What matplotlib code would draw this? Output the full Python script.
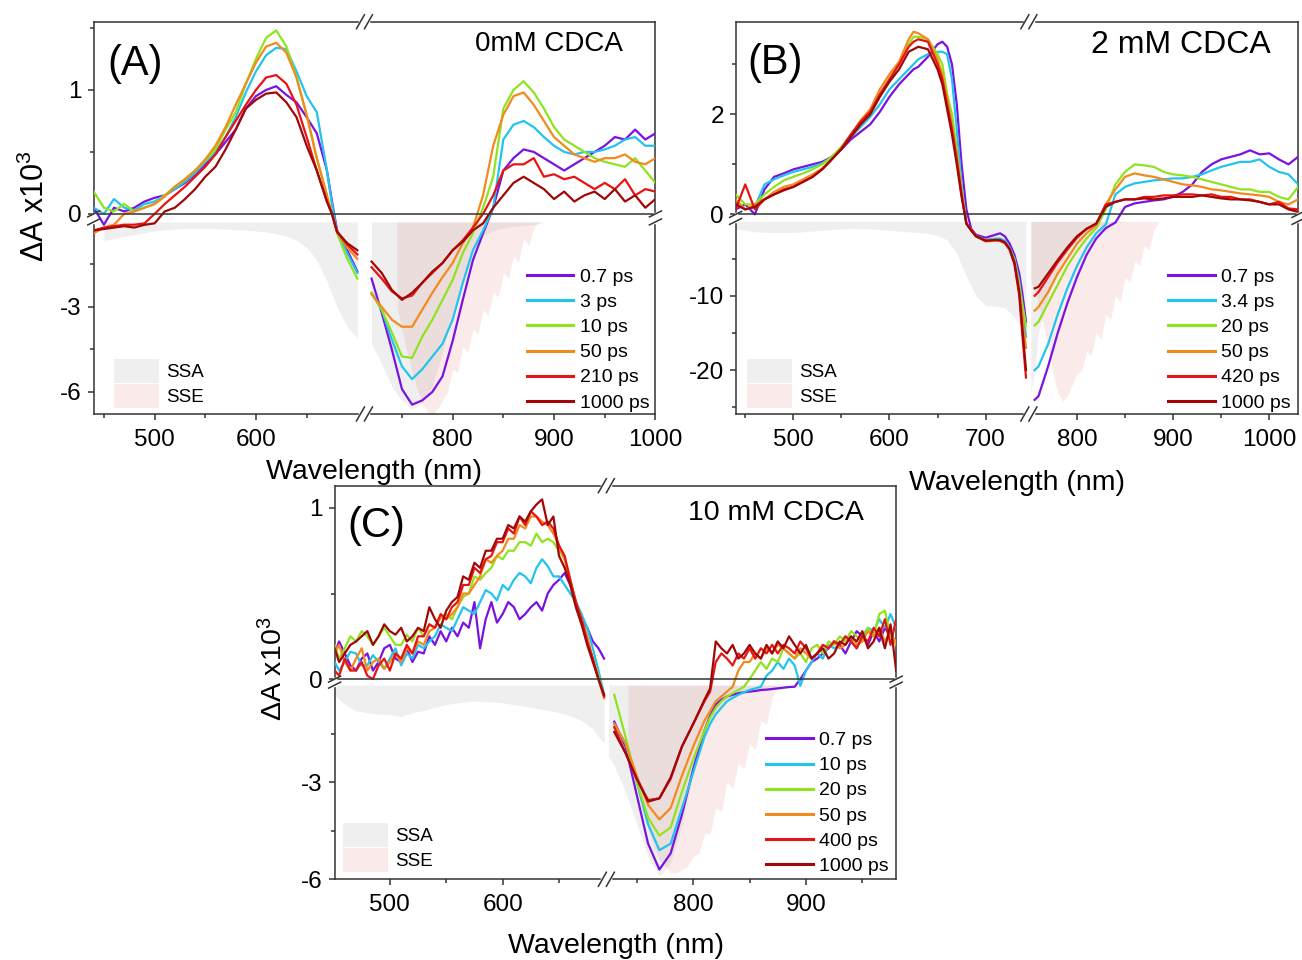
import numpy as np
import matplotlib.pyplot as plt
from matplotlib.lines import Line2D
from matplotlib.patches import Patch

plt.rcParams['font.family'] = ['Liberation Sans', 'DejaVu Sans']
plt.rcParams['mathtext.fontset'] = 'custom'
plt.rcParams['mathtext.rm'] = 'Liberation Sans'
plt.rcParams['mathtext.default'] = 'regular'
plt.rcParams['axes.unicode_minus'] = False

colors = ['#7a12e0', '#22c4ee', '#8fe31f', '#f28a1c', '#e81414', '#a00808']
ssa_col = (0.69, 0.69, 0.69, 0.2)
sse_col = (0.88, 0.44, 0.44, 0.14)
dark = '#333333'

# ---------------- panel A : 0 mM CDCA ----------------
wl_a = [440, 450, 460, 470, 480, 490, 500, 510, 520, 530, 540, 550, 560, 570, 580, 590,
        600, 610, 620, 630, 640, 650, 660, 670, 675, 680, 690, 700,
        720, 730, 740, 750, 760, 770, 780, 790, 800, 810, 820, 830, 840, 850, 860, 870,
        880, 890, 900, 910, 920, 930, 940, 950, 960, 970, 980, 990, 1000]
a_07 = [0.05, -0.1, 0.05, 0.02, 0.05, 0.1, 0.13, 0.15, 0.2, 0.25, 0.32, 0.4, 0.48, 0.58, 0.68, 0.85,
        0.95, 1.0, 1.03, 0.96, 0.9, 0.78, 0.65, 0.35, 0.1, -0.3, -1.0, -1.75,
        -2.0, -3.2, -4.5, -5.9, -6.45, -6.3, -6.0, -5.45, -4.2, -2.75, -1.35, -0.4, 0.05, 0.35, 0.45, 0.52,
        0.5, 0.45, 0.4, 0.35, 0.4, 0.45, 0.5, 0.55, 0.62, 0.6, 0.68, 0.6, 0.65]
a_3 = [0.05, 0.0, 0.12, 0.05, 0.03, 0.08, 0.1, 0.15, 0.2, 0.26, 0.33, 0.42, 0.5, 0.62, 0.78, 0.98,
       1.15, 1.28, 1.34, 1.33, 1.15, 0.95, 0.82, 0.35, 0.08, -0.35, -1.1, -1.8,
       -2.5, -3.1, -4.15, -5.1, -5.55, -5.2, -4.75, -4.3, -3.45, -2.15, -1.0, -0.3, 0.05, 0.6, 0.72, 0.75,
       0.7, 0.62, 0.55, 0.5, 0.48, 0.5, 0.5, 0.52, 0.55, 0.6, 0.62, 0.55, 0.55]
a_10 = [0.18, 0.05, 0.02, 0.08, 0.02, 0.05, 0.08, 0.15, 0.22, 0.28, 0.35, 0.43, 0.52, 0.68, 0.82, 1.05,
        1.25, 1.42, 1.48, 1.35, 1.1, 0.8, 0.45, 0.15, 0.0, -0.4, -1.3, -2.0,
        -2.5, -3.1, -3.9, -4.75, -4.8, -4.05, -3.45, -2.75, -2.05, -1.1, -0.4, 0.05, 0.3, 0.85, 1.0, 1.07,
        0.98, 0.85, 0.7, 0.6, 0.55, 0.5, 0.45, 0.42, 0.4, 0.38, 0.45, 0.35, 0.25]
a_50 = [-0.4, -0.2, -0.1, 0.0, 0.02, 0.05, 0.08, 0.14, 0.22, 0.28, 0.35, 0.44, 0.55, 0.7, 0.88, 1.05,
        1.22, 1.35, 1.38, 1.3, 1.1, 0.8, 0.45, 0.15, 0.0, -0.35, -0.9, -1.3,
        -2.55, -3.0, -3.45, -3.7, -3.7, -3.1, -2.5, -1.95, -1.45, -0.75, -0.2, 0.15, 0.55, 0.8, 0.95, 0.98,
        0.88, 0.75, 0.62, 0.55, 0.48, 0.45, 0.42, 0.45, 0.45, 0.48, 0.42, 0.4, 0.45]
a_210 = [-0.3, -0.2, -0.15, -0.1, -0.1, -0.05, 0.0, 0.08, 0.15, 0.22, 0.3, 0.38, 0.48, 0.62, 0.75, 0.88,
         1.0, 1.1, 1.12, 1.05, 0.88, 0.62, 0.35, 0.1, 0.0, -0.35, -0.8, -1.15,
         -1.6, -2.0, -2.45, -2.7, -2.6, -2.15, -1.8, -1.45, -1.0, -0.65, -0.2, 0.0, 0.15, 0.35, 0.4, 0.4,
         0.45, 0.3, 0.32, 0.28, 0.3, 0.25, 0.2, 0.25, 0.2, 0.28, 0.15, 0.2, 0.18]
a_1000 = [-0.3, -0.25, -0.2, -0.15, -0.2, -0.1, -0.05, 0.02, 0.05, 0.12, 0.2, 0.3, 0.38, 0.52, 0.68, 0.85,
          0.92, 0.97, 0.98, 0.9, 0.78, 0.55, 0.35, 0.1, 0.0, -0.35, -0.75, -1.0,
          -1.4, -1.8, -2.4, -2.75, -2.5, -2.15, -1.75, -1.45, -1.0, -0.7, -0.3, -0.05, 0.05, 0.15, 0.25, 0.3,
          0.25, 0.2, 0.12, 0.18, 0.1, 0.15, 0.18, 0.12, 0.2, 0.1, 0.15, 0.05, 0.12]
labels_a = ['0.7 ps', '3 ps', '10 ps', '50 ps', '210 ps', '1000 ps']
ssa_wl_a = [450, 460, 470, 480, 490, 500, 520, 540, 560, 580, 600, 610, 620, 630, 640, 650, 660, 670,
            680, 690, 700, 720, 730, 740, 750, 760, 770, 780, 790, 800, 810, 820, 830, 840, 860, 880, 890]
ssa_a = [-0.65, -0.6, -0.5, -0.45, -0.38, -0.32, -0.25, -0.22, -0.24, -0.27, -0.32, -0.35, -0.42, -0.5,
         -0.65, -0.9, -1.35, -2.1, -3.0, -3.7, -4.1, -4.3, -5.0, -5.8, -6.3, -6.6, -6.4, -5.8, -4.6, -3.2,
         -1.9, -1.0, -0.5, -0.3, -0.15, -0.1, -0.02]
sse_wl_a = [745, 750, 755, 760, 765, 770, 775, 780, 785, 790, 795, 800, 805, 810, 815, 820, 825, 830,
            835, 840, 845, 850, 855, 860, 865, 870, 875, 880, 885]
sse_a = [-3.0, -3.8, -4.6, -5.3, -5.9, -6.4, -6.7, -6.8, -6.6, -6.3, -6.0, -5.2, -5.3, -4.4, -4.6, -3.8,
         -3.95, -3.1, -3.3, -2.5, -2.65, -1.8, -2.0, -1.2, -1.4, -0.6, -0.85, -0.2, -0.01]

# ---------------- panel B : 2 mM CDCA ----------------
wl_b = [440, 450, 460, 470, 480, 490, 500, 510, 520, 530, 540, 550, 560, 570, 580, 590, 600, 610, 620,
        625, 630, 640, 650, 655, 660, 665, 670, 675, 680, 685, 690, 700, 710, 715, 720, 725, 730, 735, 738, 742,
        756, 760, 770, 780, 790, 800, 810, 820, 830, 840,
        850, 860, 870, 880, 890, 900, 910, 920, 930, 940, 950, 960, 970, 980, 990, 1000, 1010, 1020, 1030]
b_07 = [0.1, 0.2, 0.0, 0.5, 0.75, 0.82, 0.9, 0.95, 1.0, 1.05, 1.15, 1.3, 1.5, 1.65, 1.8, 2.05, 2.35, 2.6, 2.8,
        2.9, 2.95, 3.15, 3.4, 3.45, 3.35, 3.0, 2.2, 1.0, 0.1, -1.0, -1.8, -2.2, -1.8, -1.6, -2.0, -3.0, -4.5, -7.0, -9.5, -13.5,
        -24.0, -23.5, -19.5, -15.0, -11.0, -7.5, -4.5, -2.3, -0.9, -0.15,
        0.15, 0.22, 0.25, 0.28, 0.3, 0.35, 0.45, 0.6, 0.85, 1.0, 1.1, 1.15, 1.2, 1.28, 1.2, 1.22, 1.1, 1.0, 1.15]
b_34 = [0.2, 0.1, 0.15, 0.6, 0.7, 0.78, 0.85, 0.9, 0.95, 1.02, 1.15, 1.32, 1.55, 1.75, 1.95, 2.2, 2.5, 2.7, 2.9,
        3.0, 3.1, 3.2, 3.25, 3.25, 3.2, 2.7, 1.7, 0.6, -0.3, -1.2, -2.0, -2.5, -2.3, -2.3, -2.6, -3.5, -5.0, -8.0, -11.0, -15.5,
        -20.0, -19.5, -16.5, -12.5, -9.0, -6.0, -3.5, -1.6, -0.4, 0.4,
        0.55, 0.62, 0.65, 0.68, 0.7, 0.72, 0.72, 0.75, 0.8, 0.88, 0.95, 1.0, 1.05, 1.05, 1.1, 0.95, 0.85, 0.8, 0.6]
b_20 = [0.4, 0.2, 0.2, 0.4, 0.55, 0.68, 0.75, 0.82, 0.9, 1.0, 1.15, 1.35, 1.6, 1.85, 2.05, 2.4, 2.7, 3.0, 3.4,
        3.55, 3.55, 3.5, 3.2, 3.0, 2.4, 2.0, 1.3, 0.5, -0.3, -1.2, -2.0, -2.6, -2.5, -2.6, -2.9, -3.7, -5.2, -8.5, -11.0, -14.0,
        -14.0, -13.5, -11.0, -8.5, -6.0, -4.0, -2.3, -0.9, 0.1, 0.6,
        0.85, 1.0, 0.98, 0.95, 0.85, 0.8, 0.78, 0.75, 0.7, 0.65, 0.6, 0.55, 0.5, 0.5, 0.45, 0.45, 0.35, 0.3, 0.55]
b_50 = [0.3, 0.1, 0.2, 0.3, 0.45, 0.55, 0.6, 0.7, 0.8, 0.92, 1.1, 1.32, 1.6, 1.88, 2.1, 2.5, 2.8, 3.05, 3.5,
        3.65, 3.62, 3.5, 3.1, 2.8, 2.3, 1.8, 1.2, 0.45, -0.3, -1.2, -2.0, -2.7, -2.6, -2.6, -2.9, -3.8, -5.5, -9.0, -12.5, -17.0,
        -12.0, -11.5, -9.5, -7.0, -5.0, -3.0, -1.6, -0.5, 0.2, 0.5,
        0.75, 0.82, 0.78, 0.75, 0.7, 0.65, 0.6, 0.58, 0.55, 0.5, 0.48, 0.45, 0.42, 0.4, 0.38, 0.35, 0.25, 0.2, 0.3]
b_420 = [0.1, 0.6, 0.1, 0.3, 0.4, 0.5, 0.55, 0.65, 0.75, 0.9, 1.1, 1.32, 1.6, 1.85, 2.05, 2.4, 2.7, 3.0, 3.35,
         3.45, 3.5, 3.45, 3.0, 2.7, 2.2, 1.7, 1.1, 0.4, -0.3, -1.2, -2.0, -2.6, -2.5, -2.6, -2.9, -3.8, -5.8, -10.0, -15.0, -21.0,
         -10.0, -9.5, -7.5, -5.5, -3.8, -2.2, -1.0, -0.3, 0.2, 0.25,
         0.3, 0.3, 0.35, 0.35, 0.38, 0.38, 0.4, 0.4, 0.38, 0.4, 0.35, 0.35, 0.3, 0.3, 0.25, 0.2, 0.25, 0.12, 0.1]
b_1000 = [0.2, 0.1, 0.15, 0.3, 0.4, 0.48, 0.55, 0.65, 0.75, 0.9, 1.1, 1.3, 1.55, 1.8, 2.0, 2.35, 2.65, 2.9, 3.25,
          3.3, 3.35, 3.3, 2.9, 2.6, 2.1, 1.6, 1.0, 0.35, -0.3, -1.2, -2.0, -2.6, -2.5, -2.5, -2.8, -3.7, -5.5, -9.5, -14.0, -20.0,
          -9.0, -8.8, -7.0, -5.2, -3.5, -2.0, -1.0, -0.3, 0.15, 0.25,
          0.3, 0.3, 0.32, 0.3, 0.32, 0.35, 0.35, 0.35, 0.38, 0.35, 0.32, 0.3, 0.3, 0.28, 0.25, 0.2, 0.2, 0.1, 0.05]
labels_b = ['0.7 ps', '3.4 ps', '20 ps', '50 ps', '420 ps', '1000 ps']
ssa_wl_b = [440, 450, 460, 480, 500, 520, 540, 560, 580, 600, 620, 640, 650, 660, 670, 680, 690, 700, 710,
            720, 730, 738, 742, 752, 756, 760, 770, 780, 790, 800, 810, 820, 830, 840, 850]
ssa_b = [-1.0, -1.2, -1.4, -1.5, -1.5, -1.3, -1.1, -0.95, -1.0, -1.2, -1.4, -1.6, -1.9, -2.5, -4.3, -7.4,
         -10.0, -11.3, -11.4, -11.6, -12.8, -14.5, -17.5, -23.0, -20.0, -15.0, -10.0, -6.5, -4.0, -2.5, -1.5,
         -0.8, -0.4, -0.2, -0.05]
sse_wl_b = [752, 755, 760, 765, 770, 775, 780, 785, 790, 795, 800, 805, 810, 815, 820, 825, 830, 835, 840,
            845, 850, 855, 860, 865, 870, 875, 880, 885]
sse_b = [-8.0, -9.0, -11.0, -14.0, -17.0, -20.5, -23.0, -24.2, -23.5, -22.0, -20.5, -20.0, -17.5, -18.0,
         -15.0, -15.8, -12.5, -13.2, -10.0, -10.8, -7.5, -8.2, -5.3, -6.0, -3.3, -3.8, -1.2, -0.01]

# ---------------- panel C : 10 mM CDCA ----------------
wl_c = [451, 455, 460, 465, 470, 475, 480, 485, 490, 495, 500, 505, 510, 515, 520, 525, 530, 535, 540, 545,
        550, 555, 560, 565, 570, 575, 580, 585, 590, 595, 600, 605, 610, 615, 620, 625, 630, 635, 640, 645,
        650, 655, 660, 665, 670, 675, 680, 685, 690,
        730, 740, 750, 760, 770, 780, 790, 800, 810,
        815, 820, 825, 830, 835, 840, 845, 850, 855, 860, 865, 870, 875, 880, 885, 890, 895, 900, 905, 910,
        915, 920, 925, 930, 935, 940, 945, 950, 955, 960, 965, 970, 975, 980]
c_07 = [0.15, 0.22, 0.15, 0.08, 0.05, 0.12, 0.15, 0.05, 0.1, 0.18, 0.2, 0.12, 0.1, 0.18, 0.1, 0.16, 0.15, 0.25,
        0.2, 0.28, 0.22, 0.3, 0.25, 0.33, 0.3, 0.45, 0.18, 0.35, 0.45, 0.33, 0.38, 0.45, 0.42, 0.35, 0.38, 0.42,
        0.45, 0.4, 0.5, 0.55, 0.58, 0.62, 0.55, 0.45, 0.35, 0.3, 0.22, 0.18, 0.12,
        -1.13, -1.9, -3.4, -4.9, -5.7, -5.2, -4.0, -2.6, -1.4,
        -0.95, -0.6, -0.45, -0.35, -0.3, -0.25, -0.22, -0.2, -0.18, -0.15, -0.14, -0.12, -0.1, -0.08, -0.06,
        -0.05, 0.0, 0.05, 0.1, 0.12, 0.15, 0.18, 0.22, 0.2, 0.15, 0.22, 0.28, 0.25, 0.2, 0.28, 0.22, 0.3, 0.25, 0.22]
c_10 = [0.1, 0.05, 0.1, 0.16, 0.15, 0.08, 0.08, 0.14, 0.1, 0.06, 0.12, 0.18, 0.08, 0.15, 0.12, 0.2, 0.18, 0.22,
        0.25, 0.32, 0.3, 0.28, 0.35, 0.42, 0.4, 0.38, 0.45, 0.52, 0.5, 0.46, 0.55, 0.52, 0.58, 0.62, 0.6, 0.56,
        0.65, 0.7, 0.66, 0.6, 0.6, 0.55, 0.5, 0.45, 0.38, 0.3, 0.18, 0.05, -0.3,
        -1.2, -1.8, -3.0, -4.3, -5.1, -4.9, -3.8, -2.7, -1.6,
        -1.2, -0.9, -0.7, -0.5, -0.4, -0.3, -0.22, -0.15, -0.1, -0.05, 0.02, 0.05, 0.1, 0.06, 0.12, 0.08, -0.02,
        0.05, 0.1, 0.15, 0.12, 0.2, 0.18, 0.2, 0.25, 0.22, 0.18, 0.25, 0.3, 0.28, 0.35, 0.3, 0.38, 0.3]
c_20 = [0.2, 0.12, 0.18, 0.25, 0.22, 0.28, 0.25, 0.2, 0.25, 0.3, 0.25, 0.2, 0.2, 0.26, 0.22, 0.3, 0.25, 0.32,
        0.3, 0.36, 0.38, 0.35, 0.42, 0.48, 0.5, 0.6, 0.58, 0.62, 0.65, 0.72, 0.7, 0.75, 0.75, 0.8, 0.8, 0.78,
        0.85, 0.8, 0.82, 0.8, 0.75, 0.7, 0.55, 0.42, 0.32, 0.22, 0.12, 0.02, -0.35,
        -0.3, -1.6, -3.0, -4.1, -4.65, -4.4, -3.3, -2.3, -1.4,
        -1.0, -0.7, -0.5, -0.35, -0.25, -0.15, -0.05, 0.0, 0.05, 0.1, 0.06, 0.12, 0.1, 0.18, 0.15, 0.12, 0.15,
        0.1, 0.18, 0.2, 0.15, 0.22, 0.2, 0.25, 0.22, 0.28, 0.25, 0.22, 0.3, 0.25, 0.38, 0.4, 0.25, 0.22]
c_50 = [0.15, 0.2, 0.1, 0.05, 0.12, 0.18, 0.05, 0.1, 0.12, 0.06, 0.1, 0.15, 0.1, 0.18, 0.15, 0.22, 0.2, 0.28,
        0.3, 0.36, 0.35, 0.38, 0.42, 0.5, 0.5, 0.55, 0.6, 0.7, 0.68, 0.72, 0.75, 0.82, 0.82, 0.9, 0.88, 0.95,
        0.95, 0.92, 0.9, 0.85, 0.78, 0.7, 0.58, 0.45, 0.35, 0.25, 0.12, 0.0, -0.4,
        -1.2, -1.8, -2.8, -3.7, -4.15, -3.8, -2.8, -1.9, -1.1,
        -0.8, -0.5, -0.35, -0.2, -0.05, 0.05, 0.1, 0.1, 0.15, 0.12, 0.18, 0.15, 0.2, 0.18, 0.15, 0.12, 0.18,
        0.15, 0.12, 0.15, 0.2, 0.18, 0.22, 0.18, 0.2, 0.25, 0.2, 0.22, 0.28, 0.25, 0.3, 0.22, 0.28, 0.2]
c_400 = [0.05, 0.02, 0.12, 0.05, 0.05, 0.1, 0.02, 0.0, 0.08, 0.12, 0.05, 0.15, 0.12, 0.2, 0.15, 0.25, 0.25,
         0.32, 0.3, 0.38, 0.35, 0.42, 0.45, 0.55, 0.55, 0.65, 0.62, 0.7, 0.72, 0.8, 0.8, 0.88, 0.85, 0.95, 0.9,
         0.98, 0.95, 0.9, 0.92, 0.88, 0.78, 0.72, 0.58, 0.45, 0.35, 0.22, 0.12, 0.0, -0.35,
         -1.3, -2.1, -2.9, -3.55, -3.5, -2.9, -1.9, -1.2, -0.5,
         -0.2, 0.1, 0.15, 0.12, 0.08, 0.15, 0.12, 0.18, 0.12, 0.18, 0.15, 0.2, 0.15, 0.2, 0.18, 0.15, 0.22,
         0.18, 0.12, 0.15, 0.2, 0.18, 0.22, 0.2, 0.25, 0.22, 0.18, 0.25, 0.22, 0.3, 0.25, 0.35, 0.2, 0.35]
c_1000 = [0.18, 0.1, 0.15, 0.2, 0.22, 0.25, 0.28, 0.2, 0.25, 0.32, 0.28, 0.26, 0.3, 0.22, 0.25, 0.3, 0.28,
          0.42, 0.35, 0.3, 0.4, 0.45, 0.48, 0.6, 0.58, 0.68, 0.65, 0.75, 0.75, 0.82, 0.82, 0.9, 0.88, 0.95, 0.92,
          0.98, 1.02, 1.05, 0.9, 0.95, 0.72, 0.65, 0.55, 0.42, 0.32, 0.2, 0.1, 0.0, -0.3,
          -1.45, -2.1, -2.9, -3.6, -3.5, -2.85, -1.9, -1.2, -0.45,
          -0.1, 0.22, 0.18, 0.15, 0.2, 0.12, 0.15, 0.2, 0.15, 0.12, 0.2, 0.15, 0.22, 0.18, 0.25, 0.2, 0.15,
          0.2, 0.12, 0.15, 0.18, 0.12, 0.15, 0.22, 0.2, 0.25, 0.22, 0.28, 0.18, 0.22, 0.3, 0.18, 0.32, 0.05]
labels_c = ['0.7 ps', '10 ps', '20 ps', '50 ps', '400 ps', '1000 ps']
ssa_wl_c = [451, 460, 470, 480, 490, 500, 510, 520, 530, 540, 550, 560, 570, 580, 590, 600, 610, 620, 630,
            640, 650, 660, 670, 680, 685, 690,
            725, 730, 740, 750, 760, 770, 780, 790, 800, 810, 820, 830, 840, 850, 860, 870, 880, 890, 900]
ssa_c = [-0.3, -0.6, -0.8, -0.85, -0.9, -0.92, -0.97, -0.85, -0.78, -0.68, -0.6, -0.55, -0.5, -0.5, -0.52,
         -0.55, -0.6, -0.65, -0.72, -0.78, -0.85, -0.95, -1.1, -1.35, -1.6, -1.8,
         -2.2, -2.5, -3.3, -4.3, -5.3, -5.9, -5.5, -4.3, -2.8, -1.5, -0.8, -0.45, -0.3, -0.22, -0.18, -0.15,
         -0.1, -0.05, -0.02]
sse_wl_c = [742, 745, 750, 755, 760, 765, 770, 775, 780, 785, 790, 795, 800, 805, 810, 815, 820, 825, 830,
            835, 840, 845, 850, 855, 860, 865, 870, 875]
sse_c = [-2.0, -2.5, -3.2, -3.9, -4.5, -5.0, -5.4, -5.6, -5.8, -5.8, -5.7, -5.6, -5.3, -5.2, -4.6, -4.6,
         -3.8, -3.9, -3.0, -3.2, -2.4, -2.6, -1.8, -2.0, -1.1, -1.2, -0.4, -0.01]


def xfuncs(b1, b2, gx):
    def fwd(x):
        x = np.asarray(x, dtype=float)
        mid = b1 + (x - b1) * gx / (b2 - b1)
        return np.where(x <= b1, x, np.where(x >= b2, x - (b2 - b1) + gx, mid))

    def inv(t):
        t = np.asarray(t, dtype=float)
        mid = b1 + (t - b1) * (b2 - b1) / gx
        return np.where(t <= b1, t, np.where(t >= b1 + gx, t + (b2 - b1) - gx, mid))
    return fwd, inv


def yfuncs(r, g):
    def fwd(y):
        y = np.asarray(y, dtype=float)
        return np.where(y >= 0, y, y * r - g)

    def inv(t):
        t = np.asarray(t, dtype=float)
        return np.where(t >= 0, t, np.where(t <= -g, (t + g) / r, 0.0))
    return fwd, inv


fig = plt.figure(figsize=(13.02, 9.6), dpi=100)
W, H = 1302, 960


def panel(rect, wl, series, labels, ssa_wl, ssa, sse_wl, sse, xlim, xbrk, ylim, ybrk,
          xt, xm, yt, ym, tag, tagpos, title, tsize, tpos, legx, legy, sx, sy):
    ax = fig.add_axes(rect)
    b1, b2, gx = xbrk
    r, g = ybrk
    fx, ix = xfuncs(b1, b2, gx)
    fy, iy = yfuncs(r, g)
    ax.set_xscale('function', functions=(fx, ix))
    ax.set_yscale('function', functions=(fy, iy))
    ax.set_xlim(*xlim)
    ax.set_ylim(*ylim)

    wl = np.array(wl, dtype=float)
    sw, sv = np.array(ssa_wl, dtype=float), np.array(ssa)
    ew, ev = np.array(sse_wl, dtype=float), np.array(sse)
    for m in (sw <= b1, sw >= b2):
        ax.fill_between(sw[m], sv[m], -1e-9, color=ssa_col, lw=0, zorder=1)
    ax.fill_between(ew, ev, -1e-9, color=sse_col, lw=0, zorder=1.1)

    for ys, c in zip(series, colors):
        ys = np.array(ys)
        for m in (wl <= b1, wl >= b2):
            ax.plot(wl[m], ys[m], color=c, lw=1.6, zorder=3)
    ax.axhline(0, color=dark, lw=1.1, zorder=3.5)

    for s in ax.spines.values():
        s.set_color(dark)
        s.set_linewidth(1.1)
    ax.set_xticks(xt)
    ax.set_xticklabels([str(v) for v in xt])
    ax.set_xticks(xm, minor=True)
    ax.set_yticks(yt)
    ax.set_yticklabels([str(v) for v in yt])
    ax.set_yticks(ym, minor=True)
    ax.tick_params(which='both', direction='out', top=False, right=False,
                   color=dark, width=1.1, labelsize=17.5)
    ax.tick_params(which='major', length=4.5)
    ax.tick_params(which='minor', length=3, labelbottom=False, labelleft=False)
    ax.tick_params(axis='x', pad=6)
    ax.tick_params(axis='y', pad=4)

    # break marks
    bb = ax.get_position()
    w, h = bb.width * W, bb.height * H
    x0, x1 = xlim
    xf = (b1 + gx / 2 - x0) / (float(fx(x1)) - x0)
    y0f = float(fy(ylim[0]))
    yt_f = (0 - y0f) / (ylim[1] - y0f)
    yb_f = (-g - y0f) / (ylim[1] - y0f)
    kw = dict(transform=ax.transAxes, clip_on=False)
    for yy in (0, 1):
        ax.plot([xf - 4 / w, xf + 4 / w], [yy, yy], color='white', lw=2.5, zorder=5, **kw)
        for dx in (-4, 4):
            ax.plot([xf + (dx - 4) / w, xf + (dx + 4) / w], [yy - 7 / h, yy + 7 / h],
                    color=dark, lw=1.1, zorder=6, **kw)
    for xx in (0, 1):
        ax.plot([xx, xx], [yb_f, yt_f], color='white', lw=2.5, zorder=5, **kw)
        for yy in (yt_f, yb_f):
            ax.plot([xx - 6 / w, xx + 6 / w], [yy - 3 / h, yy + 3 / h],
                    color=dark, lw=1.1, zorder=6, **kw)

    ax.text(tagpos[0], tagpos[1], tag, transform=ax.transAxes, fontsize=30,
            ha='left', va='center')
    ax.text(tpos[0], tpos[1], title, transform=ax.transAxes, fontsize=tsize,
            ha='right', va='center')

    hl = [Line2D([], [], color=c, lw=2.2) for c in colors]
    leg = ax.legend(hl, labels, loc='upper left', bbox_to_anchor=(legx, legy), frameon=False,
                    fontsize=14, handlelength=2.4, handletextpad=0.33, labelspacing=0.385,
                    borderpad=0, borderaxespad=0)
    ax.add_artist(leg)
    hp = [Patch(facecolor=ssa_col, lw=0), Patch(facecolor=sse_col, lw=0)]
    ax.legend(hp, ['SSA', 'SSE'], loc='upper left', bbox_to_anchor=(sx, sy), frameon=False,
              fontsize=13.5, handlelength=2.4, handleheight=1.6, handletextpad=0.38,
              labelspacing=0.05, borderpad=0, borderaxespad=0)
    return ax


panel([0.0720, 0.56875, 0.4314, 0.4086], wl_a, [a_07, a_3, a_10, a_50, a_210, a_1000], labels_a,
      ssa_wl_a, ssa_a, sse_wl_a, sse_a, (440, 1000), (703, 717, 8), (-6.78, 1.55), (0.2285, 0.0645),
      [500, 600, 800, 900, 1000], [450, 550, 650, 750, 850, 950], [-6, -3, 0, 1], [-4.5, -1.5, 0.5, 1.5],
      '(A)', (0.024, 0.892), '0mM CDCA', 20, (0.942, 0.943), 0.771, 0.371, 0.036, 0.140)

panel([0.5650, 0.56875, 0.4320, 0.4086], wl_b, [b_07, b_34, b_20, b_50, b_420, b_1000], labels_b,
      ssa_wl_b, ssa_b, sse_wl_b, sse_b, (440, 1030), (743, 752, 4), (-25.9, 3.85), (0.1486, 0.14),
      [500, 600, 700, 800, 900, 1000], [450, 550, 650, 850, 950], [-20, -10, 0, 2], [-25, -15, -5, 1, 3],
      '(B)', (0.021, 0.896), '2 mM CDCA', 23, (0.952, 0.941), 0.769, 0.371, 0.021, 0.141)

panel([0.2570, 0.0841, 0.4313, 0.4100], wl_c, [c_07, c_10, c_20, c_50, c_400, c_1000], labels_c,
      ssa_wl_c, ssa_c, sse_wl_c, sse_c, (451, 980), (690, 725, 4), (-6.0, 1.13), (0.189, 0.035),
      [500, 600, 800, 900], [550, 650, 750, 850, 950], [-6, -3, 0, 1], [-4.5, -1.5, 0.5],
      '(C)', (0.023, 0.898), '10 mM CDCA', 20.5, (0.942, 0.930), 0.768, 0.375, 0.015, 0.144)

fig.text(0.2876, 0.5083, 'Wavelength (nm)', fontsize=20.5, ha='center', va='center')
fig.text(0.7811, 0.4969, 'Wavelength (nm)', fontsize=20.5, ha='center', va='center')
fig.text(0.4735, 0.0146, 'Wavelength (nm)', fontsize=20.5, ha='center', va='center')
fig.text(0.0269, 0.7854, 'ΔA x10$^3$', fontsize=22, ha='center', va='center', rotation=90)
fig.text(0.2104, 0.3031, 'ΔA x10$^3$', fontsize=20.5, ha='center', va='center', rotation=90)

fig.savefig('out.png', dpi=100)
